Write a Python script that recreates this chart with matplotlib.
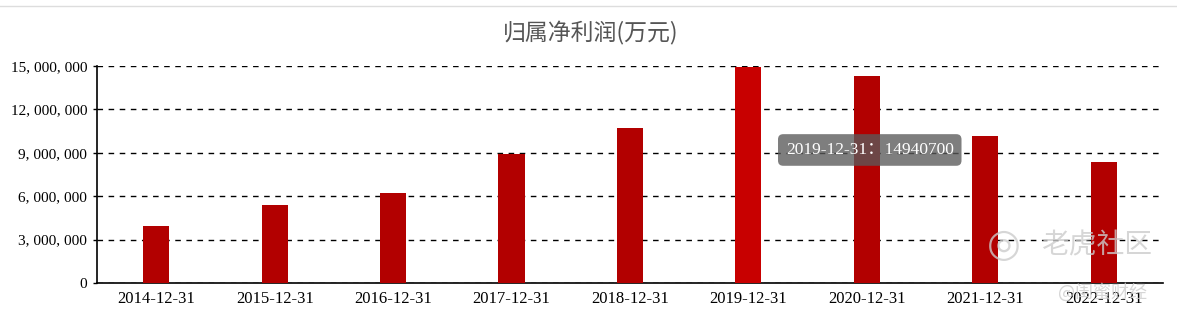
import numpy as np
import matplotlib.pyplot as plt
import matplotlib.ticker as mticker

plt.rcParams['font.family'] = ['Liberation Serif', 'Noto Sans CJK SC', 'DejaVu Sans']

dates = ['2014-12-31', '2015-12-31', '2016-12-31', '2017-12-31', '2018-12-31',
         '2019-12-31', '2020-12-31', '2021-12-31', '2022-12-31']
profit = [3940000, 5390000, 6220000, 8910000, 10710000,
          14940700, 14300000, 10160000, 8360000]
y_ticks = [0, 3000000, 6000000, 9000000, 12000000, 15000000]
highlight = 5

fig = plt.figure(figsize=(11.77, 3.17), dpi=100)
ax = fig.add_axes([0.0824, 0.1073, 0.9056, 0.6845])

x = np.arange(len(dates))
colors = ['#b20000'] * len(dates)
colors[highlight] = '#c80000'
ax.bar(x, profit, width=0.22, color=colors, zorder=3)

ax.set_xlim(-0.5, len(dates) - 0.5)
ax.set_ylim(0, 15000000)
ax.set_yticks(y_ticks)
ax.yaxis.set_major_formatter(mticker.FuncFormatter(
    lambda v, p: '{:,}'.format(int(v)).replace(',', ', ')))
ax.set_xticks(x)
ax.set_xticklabels(dates)
ax.tick_params(axis='y', length=3, width=1, labelsize=11, pad=4, colors='black')
ax.tick_params(axis='x', length=0, labelsize=12, pad=6)

ax.yaxis.grid(True, linestyle=(0, (4, 4)), color='black', linewidth=1, zorder=0)
ax.set_axisbelow(True)
for s in ['top', 'right']:
    ax.spines[s].set_visible(False)
ax.spines['left'].set_linewidth(1.2)
ax.spines['bottom'].set_linewidth(1.2)

fig.text(0.502, 0.895, '归属净利润(万元)', ha='center', va='center',
         fontsize=16.5, color='#555555', family=['Noto Sans CJK SC', 'DejaVu Sans'])
fig.add_artist(plt.Line2D([0, 1], [0.982, 0.982], color='#dddddd', linewidth=1))

# tooltip
ax.text(0.725, 0.613, '{}：{}'.format(dates[highlight], profit[highlight]),
        transform=ax.transAxes, ha='center', va='center', color='white',
        fontsize=12.5, zorder=5, family=['Liberation Serif', 'Noto Sans CJK SC'],
        bbox=dict(boxstyle='round,pad=0.45,rounding_size=0.3',
                  facecolor='#5a5a5a', alpha=0.78, edgecolor='none'))

# watermark
fig.text(0.853, 0.226, '◎', fontsize=28, color='#cccccc', ha='center', va='center',
         family=['DejaVu Sans'], alpha=0.8)
fig.text(0.932, 0.226, '老虎社区', fontsize=20, color='#cccccc', ha='center',
         va='center', family=['Noto Sans CJK SC'], alpha=0.8)
fig.text(0.937, 0.077, '@闺蜜财经', fontsize=13, color='#cccccc', ha='center',
         va='center', family=['Noto Sans CJK SC'], alpha=0.8)

fig.savefig('out.png', dpi=100)
